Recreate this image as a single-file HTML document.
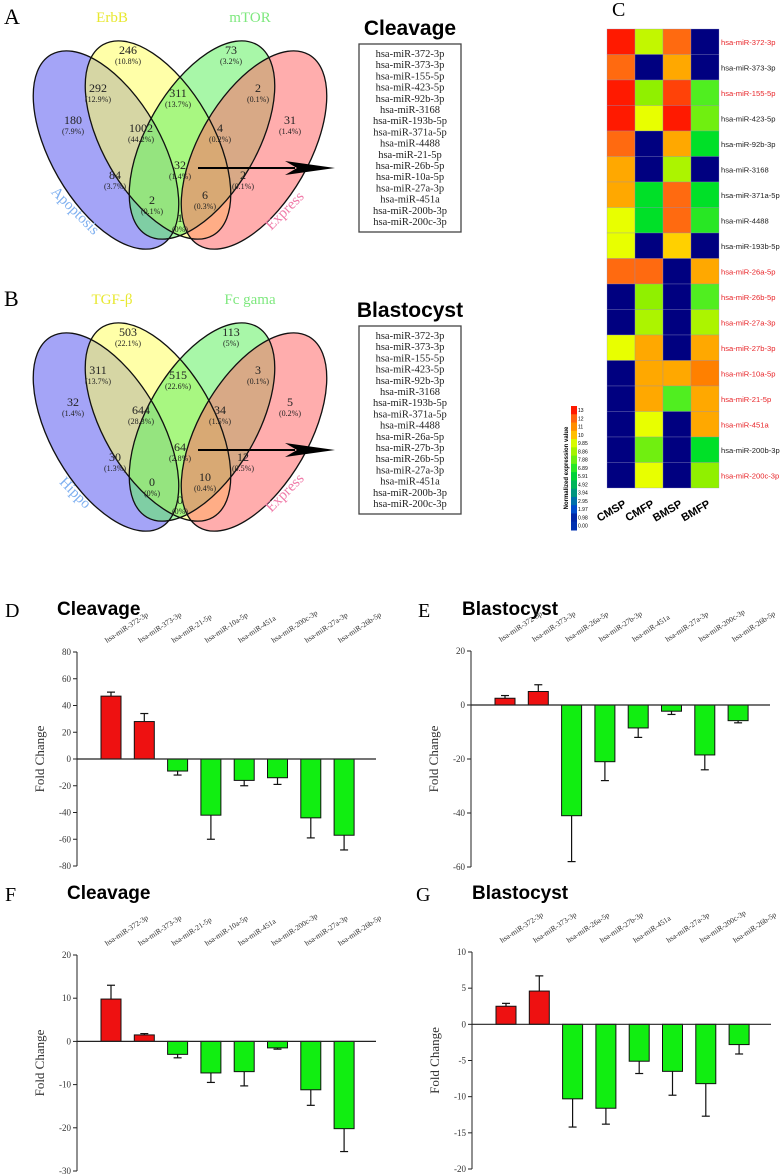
<!DOCTYPE html>
<html><head><meta charset="utf-8"><style>
body{margin:0;background:#fff}
svg{display:block}
.ser{font-family:"Liberation Serif",serif}
.san{font-family:"Liberation Sans","DejaVu Sans",sans-serif}
</style></head><body>
<svg id="fig" xmlns="http://www.w3.org/2000/svg" width="783" height="1176" viewBox="0 0 783 1176">
<g id="venns"></g>
<g id="heat"></g>
<g id="bars"></g>
</svg>
<script>
// ---------- Heatmap data ----------
const hmGenes=["hsa-miR-372-3p","hsa-miR-373-3p","hsa-miR-155-5p","hsa-miR-423-5p","hsa-miR-92b-3p","hsa-miR-3168","hsa-miR-371a-5p","hsa-miR-4488","hsa-miR-193b-5p","hsa-miR-26a-5p","hsa-miR-26b-5p","hsa-miR-27a-3p","hsa-miR-27b-3p","hsa-miR-10a-5p","hsa-miR-21-5p","hsa-miR-451a","hsa-miR-200b-3p","hsa-miR-200c-3p"];
const hmRed=[1,0,1,0,0,0,0,0,0,1,1,1,1,1,1,1,0,1];
const hmSamples=["CMSP","CMFP","BMSP","BMFP"];
const hmValues=[[13,8.9,12,0],[12,0,10.5,0],[13,8,12.5,7],[13,9.6,13,7.5],[12,0,10.5,6],[10.5,0,8.5,0],[10.5,6,12,6],[9.6,6,12,6.5],[9.6,0,10,0],[12,12,0,10.5],[0,8,0,7],[0,8.5,0,8.5],[9.6,10.5,0,10.5],[0,10.5,10.5,11.5],[0,10.5,7,10.5],[0,9.6,0,10.5],[0,7.5,0,6],[0,9.6,0,8]];
const legendTicks=["13","12","11","10","9.85","8.86","7.88","6.89","5.91","4.92","3.94","2.95","1.97","0.98","0.00"];
// ---------- Bar chart data ----------
const dLabels=["hsa-miR-372-3p","hsa-miR-373-3p","hsa-miR-21-5p","hsa-miR-10a-5p","hsa-miR-451a","hsa-miR-200c-3p","hsa-miR-27a-3p","hsa-miR-26b-5p"];
const dValues=[47,28,-9,-42,-16,-14,-44,-57];
const dErrors=[3,6,3,18,4,5,15,11];
const dTicks=[80,60,40,20,0,-20,-40,-60,-80];
const eLabels=["hsa-miR-372-3p","hsa-miR-373-3p","hsa-miR-26a-5p","hsa-miR-27b-3p","hsa-miR-451a","hsa-miR-27a-3p","hsa-miR-200c-3p","hsa-miR-26b-5p"];
const eValues=[2.5,5,-41,-21,-8.5,-2.3,-18.5,-5.8];
const eErrors=[1,2.5,17,7,3.5,1.2,5.5,0.8];
const eTicks=[20,0,-20,-40,-60];
const fLabels=["hsa-miR-372-3p","hsa-miR-373-3p","hsa-miR-21-5p","hsa-miR-10a-5p","hsa-miR-451a","hsa-miR-200c-3p","hsa-miR-27a-3p","hsa-miR-26b-5p"];
const fValues=[9.8,1.5,-3,-7.3,-7,-1.5,-11.2,-20.2];
const fErrors=[3.2,0.3,0.8,2.2,3.3,0.3,3.6,5.3];
const fTicks=[20,10,0,-10,-20,-30];
const gLabels=["hsa-miR-372-3p","hsa-miR-373-3p","hsa-miR-26a-5p","hsa-miR-27b-3p","hsa-miR-451a","hsa-miR-27a-3p","hsa-miR-200c-3p","hsa-miR-26b-5p"];
const gValues=[2.5,4.6,-10.3,-11.6,-5.1,-6.5,-8.2,-2.8];
const gErrors=[0.4,2.1,3.9,2.2,1.7,3.3,4.5,1.3];
const gTicks=[10,5,0,-5,-10,-15,-20];
// ---------- Venn data ----------
const vennA={sets:["Apoptosis","ErbB","mTOR","Express"],counts:["246","73","292","311","2","180","1002","4","31","32","84","2","2","6","1"],pcts:["(10.8%)","(3.2%)","(12.9%)","(13.7%)","(0.1%)","(7.9%)","(44.2%)","(0.2%)","(1.4%)","(1.4%)","(3.7%)","(0.1%)","(0.1%)","(0.3%)","(0%)"]};
const vennB={sets:["Hippo","TGF-β","Fc gama","Express"],counts:["503","113","311","515","3","32","644","34","5","64","30","12","0","10","0"],pcts:["(22.1%)","(5%)","(13.7%)","(22.6%)","(0.1%)","(1.4%)","(28.3%)","(1.5%)","(0.2%)","(2.8%)","(1.3%)","(0.5%)","(0%)","(0.4%)","(0%)"]};
const listA=["hsa-miR-372-3p","hsa-miR-373-3p","hsa-miR-155-5p","hsa-miR-423-5p","hsa-miR-92b-3p","hsa-miR-3168","hsa-miR-193b-5p","hsa-miR-371a-5p","hsa-miR-4488","hsa-miR-21-5p","hsa-miR-26b-5p","hsa-miR-10a-5p","hsa-miR-27a-3p","hsa-miR-451a","hsa-miR-200b-3p","hsa-miR-200c-3p"];
const listB=["hsa-miR-372-3p","hsa-miR-373-3p","hsa-miR-155-5p","hsa-miR-423-5p","hsa-miR-92b-3p","hsa-miR-3168","hsa-miR-193b-5p","hsa-miR-371a-5p","hsa-miR-4488","hsa-miR-26a-5p","hsa-miR-27b-3p","hsa-miR-26b-5p","hsa-miR-27a-3p","hsa-miR-451a","hsa-miR-200b-3p","hsa-miR-200c-3p"];

const NS="http://www.w3.org/2000/svg";
function mk(tag,attrs,parent,txt){const e=document.createElementNS(NS,tag);for(const k in attrs)e.setAttribute(k,attrs[k]);if(txt!==undefined)e.textContent=txt;parent.appendChild(e);return e;}

// ---------- Venn ----------
const regionPos=[[128,50],[231,50],[98,88],[178,93],[258,88],[73,120],[141,128],[220,128],[290,120],[180,165],[115,175],[243,175],[152,200],[205,195],[180,218]];
function venn(v,dy,letter,title,list,g){
  const L=mk('text',{x:4,y:dy+24,'font-size':22,class:'ser'},g,letter);
  
  
  const ells=[{cx:106,cy:150,r:60,f:'#5a5af0'},{cx:158,cy:140,r:60,f:'#ffff60'},{cx:202,cy:140,r:-60,f:'#60f060'},{cx:254,cy:150,r:-60,f:'#ff6a6a'}];
  ells.forEach((e,i)=>{
    const el=mk('ellipse',{cx:e.cx,cy:e.cy+dy,rx:110,ry:55,transform:`rotate(${e.r} ${e.cx} ${e.cy+dy})`,fill:e.f,'fill-opacity':0.55,stroke:'none'},g);
    
    
  });
  ells.forEach(e=>{mk('ellipse',{cx:e.cx,cy:e.cy+dy,rx:110,ry:55,transform:`rotate(${e.r} ${e.cx} ${e.cy+dy})`,fill:'none',stroke:'#111','stroke-width':1.3},g);});
  const lab=[{x:112,y:22,c:'#e8e830',r:0},{x:250,y:22,c:'#7ee87e',r:0},{x:72,y:214,c:'#7fb0f0',r:45},{x:288,y:214,c:'#f07aa8',r:-45}];
  const order=[1,2,0,3];
  order.forEach((si,k)=>{const p=lab[k];
    const t=mk('text',{x:p.x,y:p.y+dy,'font-size':15,fill:p.c,'text-anchor':'middle',class:'ser',transform:p.r?`rotate(${p.r} ${p.x} ${p.y+dy})`:''},g,v.sets[si]);
    
    
  });
  regionPos.forEach((p,i)=>{
    const t=mk('text',{x:p[0],y:p[1]+dy+4,'font-size':12,'text-anchor':'middle',class:'ser',fill:'#222'},g,v.counts[i]);
    
    
    mk('text',{x:p[0],y:p[1]+dy+14,'font-size':8,'text-anchor':'middle',class:'ser',fill:'#222'},g,v.pcts[i]);
  });
  const ay=dy+168;
  mk('line',{x1:198,y1:ay,x2:295,y2:ay,stroke:'#000','stroke-width':2},g);
  const ah=mk('polygon',{points:`285,${ay-7} 335,${ay} 285,${ay+7} 297,${ay}`,fill:'#000'},g);
  
  
  const T=mk('text',{x:410,y:dy+35,'font-size':21,'font-weight':'bold','text-anchor':'middle',class:'san'},g,title);
  
  
  const box=mk('rect',{x:359,y:dy+44,width:102,height:188,fill:'#fff',stroke:'#444','stroke-width':1.3},g);
  
  
  list.forEach((s,i)=>{mk('text',{x:410,y:dy+57+i*11.2,'font-size':10.5,'text-anchor':'middle',class:'ser',fill:'#222'},g,s);});
}
const vg=document.getElementById('venns');
venn(vennA,0,'A','Cleavage',listA,vg);
venn(vennB,282,'B','Blastocyst',listB,vg);

// ---------- Heatmap ----------
const hg=document.getElementById('heat');
const cstops=[[0,[0,0,128]],[2,[0,80,208]],[4,[0,160,112]],[6,[0,224,40]],[7,[80,238,32]],[8,[144,240,0]],[9,[200,248,0]],[9.6,[232,255,0]],[10,[255,208,0]],[10.5,[255,168,0]],[11.5,[255,128,0]],[12,[255,106,16]],[13,[255,26,0]]];
function cmap(v){for(let i=1;i<cstops.length;i++){if(v<=cstops[i][0]){const a=cstops[i-1],b=cstops[i];const t=(v-a[0])/(b[0]-a[0]);const c=a[1].map((x,j)=>Math.round(x+(b[1][j]-x)*t));return `rgb(${c})`;}}return 'rgb(255,26,0)';}
const hx=607,hy=29,cw=28,rh=459/hmGenes.length;
mk('text',{x:612,y:16,'font-size':20,class:'ser'},hg,'C');
hmValues.forEach((row,r)=>{row.forEach((v,c)=>{
  const rc=mk('rect',{x:hx+c*cw,y:hy+r*rh,width:cw,height:rh,fill:cmap(v),stroke:'#9090c0','stroke-width':0.3},hg);
  
  
});
  const t=mk('text',{x:hx+4*cw+2,y:hy+r*rh+rh/2+3,'font-size':7.6,class:'san',fill:hmRed[r]?'#e8262a':'#222'},hg,hmGenes[r]);
  
  
});
hmSamples.forEach((s,c)=>{const x=hx+c*cw+20,y=hy+459+18;
  const t=mk('text',{x:x,y:y,'font-size':11,'font-weight':'bold',class:'san','text-anchor':'end',transform:`rotate(-30 ${x} ${y})`},hg,s);
  
  
});
const lgTop=406,lgH=124,nL=legendTicks.length;
legendTicks.forEach((tk,i)=>{
  const v=(nL-1-i)*13/(nL-1);
  const rc=mk('rect',{x:571,y:lgTop+i*lgH/nL,width:6,height:lgH/nL+0.5,fill:cmap(v===0?1.2:v)},hg);
  
  
  mk('text',{x:578,y:lgTop+i*lgH/nL+6,'font-size':5,class:'san'},hg,tk);
});
const lt=mk('text',{x:568,y:468,'font-size':6,'font-weight':'bold',class:'san','text-anchor':'middle',transform:'rotate(-90 568 468)'},hg,'Normalized expression value');



// ---------- Bar charts ----------
const bg=document.getElementById('bars');
function bars(o){
  const g=mk('g',{},bg);
  
  
  const vmax=o.ticks[0],vmin=o.ticks[o.ticks.length-1];
  const Y=v=>o.yTop+(vmax-v)/(vmax-vmin)*(o.yBot-o.yTop);
  const X=i=>o.x0+34+i*33.3;
  mk('text',{x:o.lx,y:o.ty+2,'font-size':20,class:'ser'},g,o.letter);
  const tt=mk('text',{x:o.tx,y:o.ty,'font-size':19,'font-weight':'bold',class:'san'},g,o.title);
  
  
  mk('line',{x1:o.x0,y1:o.yTop,x2:o.x0,y2:o.yBot,stroke:'#222','stroke-width':1},g);
  o.ticks.forEach(t=>{
    mk('line',{x1:o.x0-4,y1:Y(t),x2:o.x0,y2:Y(t),stroke:'#222','stroke-width':1},g);
    const tl=mk('text',{x:o.x0-6,y:Y(t)+3,'font-size':9,'text-anchor':'end',class:'ser',fill:'#333'},g,String(t));
    
    
  });
  const yc=(o.yTop+o.yBot)/2, ax=o.x0-33;
  const yt=mk('text',{x:ax,y:yc,'font-size':13,'text-anchor':'middle',class:'ser',fill:'#333',transform:`rotate(-90 ${ax} ${yc})`},g,'Fold Change');
  
  
  o.values.forEach((v,i)=>{
    const cx=X(i),y0=Y(0),yv=Y(v),ye=Y(v+Math.sign(v)*o.errors[i]);
    mk('line',{x1:cx,y1:yv,x2:cx,y2:ye,stroke:'#111','stroke-width':1.2},g);
    mk('line',{x1:cx-4,y1:ye,x2:cx+4,y2:ye,stroke:'#111','stroke-width':1.2},g);
    const r=mk('rect',{x:cx-10,y:Math.min(y0,yv),width:20,height:Math.abs(yv-y0),fill:v>0?'#ee1111':'#11ee11',stroke:'#111','stroke-width':1},g);
    
    
    const lx=cx-4,ly=o.yTop-9;
    const tl=mk('text',{x:lx,y:ly,'font-size':7.6,class:'ser',fill:'#333',transform:`rotate(-33 ${lx} ${ly})`},g,o.labels[i]);
    
    
  });
  mk('line',{x1:o.x0,y1:Y(0),x2:o.x0+299,y2:Y(0),stroke:'#222','stroke-width':1.2},g);
}
bars({letter:'D',title:'Cleavage',lx:5,tx:57,ty:615,x0:77,yTop:652,yBot:866,ticks:dTicks,values:dValues,errors:dErrors,labels:dLabels});
bars({letter:'E',title:'Blastocyst',lx:418,tx:462,ty:615,x0:471,yTop:651,yBot:867,ticks:eTicks,values:eValues,errors:eErrors,labels:eLabels});
bars({letter:'F',title:'Cleavage',lx:5,tx:67,ty:899,x0:77,yTop:955,yBot:1171,ticks:fTicks,values:fValues,errors:fErrors,labels:fLabels});
bars({letter:'G',title:'Blastocyst',lx:416,tx:472,ty:899,x0:472,yTop:952,yBot:1169,ticks:gTicks,values:gValues,errors:gErrors,labels:gLabels});
</script>
</body></html>
